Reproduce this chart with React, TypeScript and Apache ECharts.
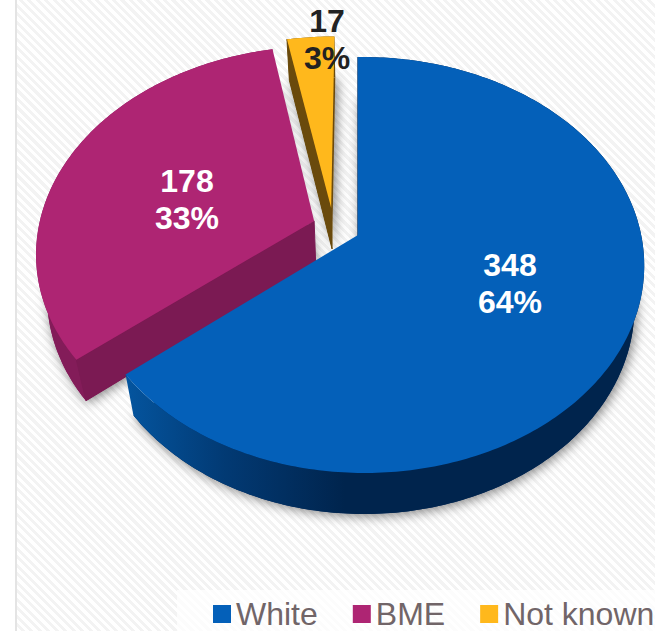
import React, { useEffect, useRef } from "react";
import * as echarts from "echarts";

// Ethnicity breakdown shown as a tilted, exploded pie.
const categories = ["White", "BME", "Not known"];
const counts = [348, 178, 17];
const topColors = ["#0460B9", "#AE2573", "#FFB81C"];
const faceColors = ["#0A3F78", "#7B1A53", "#6A4A0C"];
const rimColors = ["#00244D", "#831C59", "#6A4A0C"];
const labelColors = ["#FFFFFF", "#FFFFFF", "#222222"];
// Explosion of each slice, in disc radii (right, towards the viewer).
const explodeU = [0, -0.16, -0.097];
const explodeV = [0, -0.07, -0.135];
// Horizontal radius and sideways skew used for each slice.
const radiusX = [277.5, 277, 282];
const skew = [0.02, 0, 0];
// Where each slice's value label is centred.
const labelX = [510, 187, 327];
const labelY = [283, 199, 39];

const WIDTH = 655;
const HEIGHT = 631;
const total = counts.reduce((a, b) => a + b, 0);

// Perspective projection of the unit disc onto the page.
const CX = 358;
const CY = 235;
const RY = 203.6;
const TILT = 0.1443;
// The underside of the disc sits lower and slightly narrower.
const DEPTH = 41;
const UNDER_SCALE = 0.966;

type Pt = [number, number];

const project = (i: number, u: number, v: number): Pt => {
  const d = 1 - TILT * v - skew[i] * u;
  return [CX + (radiusX[i] * u) / d, CY + (RY * v) / d];
};
const under = (p: Pt): Pt => [CX + UNDER_SCALE * (p[0] - CX), p[1] + DEPTH];

const startAngle = (i: number) =>
  (counts.slice(0, i).reduce((a, b) => a + b, 0) / total) * 2 * Math.PI;

const apexOf = (i: number): Pt => project(i, explodeU[i], explodeV[i]);

const arcOf = (i: number, value: number): Pt[] => {
  const a0 = startAngle(i);
  const a1 = a0 + (value / total) * 2 * Math.PI;
  const steps = Math.max(4, Math.ceil((a1 - a0) / 0.015));
  const pts: Pt[] = [];
  for (let s = 0; s <= steps; s++) {
    const t = a0 + ((a1 - a0) * s) / steps;
    pts.push(project(i, explodeU[i] + Math.sin(t), explodeV[i] - Math.cos(t)));
  }
  return pts;
};

const rimFill = (i: number) =>
  i === 0
    ? {
        type: "linear",
        global: true,
        x: 125,
        y: 0,
        x2: 345,
        y2: 0,
        colorStops: [
          { offset: 0, color: "#04559F" },
          { offset: 0.45, color: "#023A74" },
          { offset: 1, color: rimColors[0] },
        ],
      }
    : rimColors[i];

const renderSlice = (i: number) => (_params: any, api: any) => {
  const value = api.value(0);
  const arc = arcOf(i, value);
  const apex = apexOf(i);
  const rim = [...arc, ...arc.map(under).reverse()];
  const face = [apex, arc[0], under(arc[0]), under(apex)];
  const pct = Math.round((value / total) * 100);
  return {
    type: "group",
    children: [
      { type: "polygon", shape: { points: rim }, style: { fill: rimFill(i) } },
      {
        type: "polygon",
        shape: { points: face },
        style: { fill: faceColors[i], stroke: faceColors[i], lineWidth: 1 },
      },
      {
        type: "polygon",
        shape: { points: [apex, ...arc] },
        style: { fill: topColors[i] },
      },
      {
        type: "text",
        x: labelX[i],
        y: labelY[i],
        style: {
          text: `${value}\n${pct}%`,
          fill: labelColors[i],
          font: 'bold 32px "Liberation Sans"',
          lineHeight: 37,
          align: "center",
          verticalAlign: "middle",
        },
      },
    ],
  };
};

// Soft shadow thrown by each slice's underside, kept below every slice.
const renderShadow = (params: any, api: any) => {
  const i = params.dataIndex;
  const arc = arcOf(i, api.value(0));
  return {
    type: "polygon",
    shape: { points: [apexOf(i), ...arc].map(under) },
    style: {
      fill: rimColors[i],
      shadowBlur: 12,
      shadowColor: "rgba(0,0,0,0.5)",
      shadowOffsetX: 2,
      shadowOffsetY: 2,
    },
  };
};

export default function App() {
  const ref = useRef<HTMLDivElement>(null);

  useEffect(() => {
    const chart = echarts.init(ref.current!, undefined, { renderer: "svg" });
    chart.setOption({
      animation: false,
      backgroundColor: "transparent",
      graphic: [
        {
          type: "rect",
          z: 0,
          shape: { x: 177, y: 590, width: 478, height: 41 },
          style: { fill: "rgba(255,255,255,0.75)" },
        },
      ],
      legend: {
        data: categories,
        left: 213,
        top: 598,
        width: 500,
        padding: 0,
        itemGap: 35,
        itemWidth: 18,
        itemHeight: 18,
        icon: "rect",
        selectedMode: false,
        textStyle: {
          color: "#716568",
          fontSize: 32,
          fontFamily: "Liberation Sans",
        },
      },
      series: [
        {
          type: "custom",
          name: "underside",
          coordinateSystem: "none",
          silent: true,
          z: 1,
          data: counts,
          renderItem: renderShadow,
        },
        ...categories.map((name, i) => ({
          type: "custom",
          name,
          coordinateSystem: "none",
          silent: true,
          z: [5, 4, 3][i],
          itemStyle: { color: topColors[i] },
          data: [counts[i]],
          renderItem: renderSlice(i),
        })),
      ],
    });
    return () => chart.dispose();
  }, []);

  return (
    <div
      style={{
        position: "fixed",
        left: 0,
        top: 0,
        width: WIDTH,
        height: HEIGHT,
        overflow: "hidden",
        background: "#FFFFFF",
      }}
    >
      <div
        style={{
          position: "absolute",
          left: 15,
          top: 0,
          bottom: 0,
          right: 0,
          borderLeft: "2px solid #E4E4E4",
          background:
            "repeating-linear-gradient(45deg, #FFFFFF 0 3px, #F3F3F3 3px 6px)",
        }}
      />
      <div
        ref={ref}
        style={{ position: "absolute", left: 0, top: 0, width: WIDTH, height: HEIGHT }}
      />
    </div>
  );
}
